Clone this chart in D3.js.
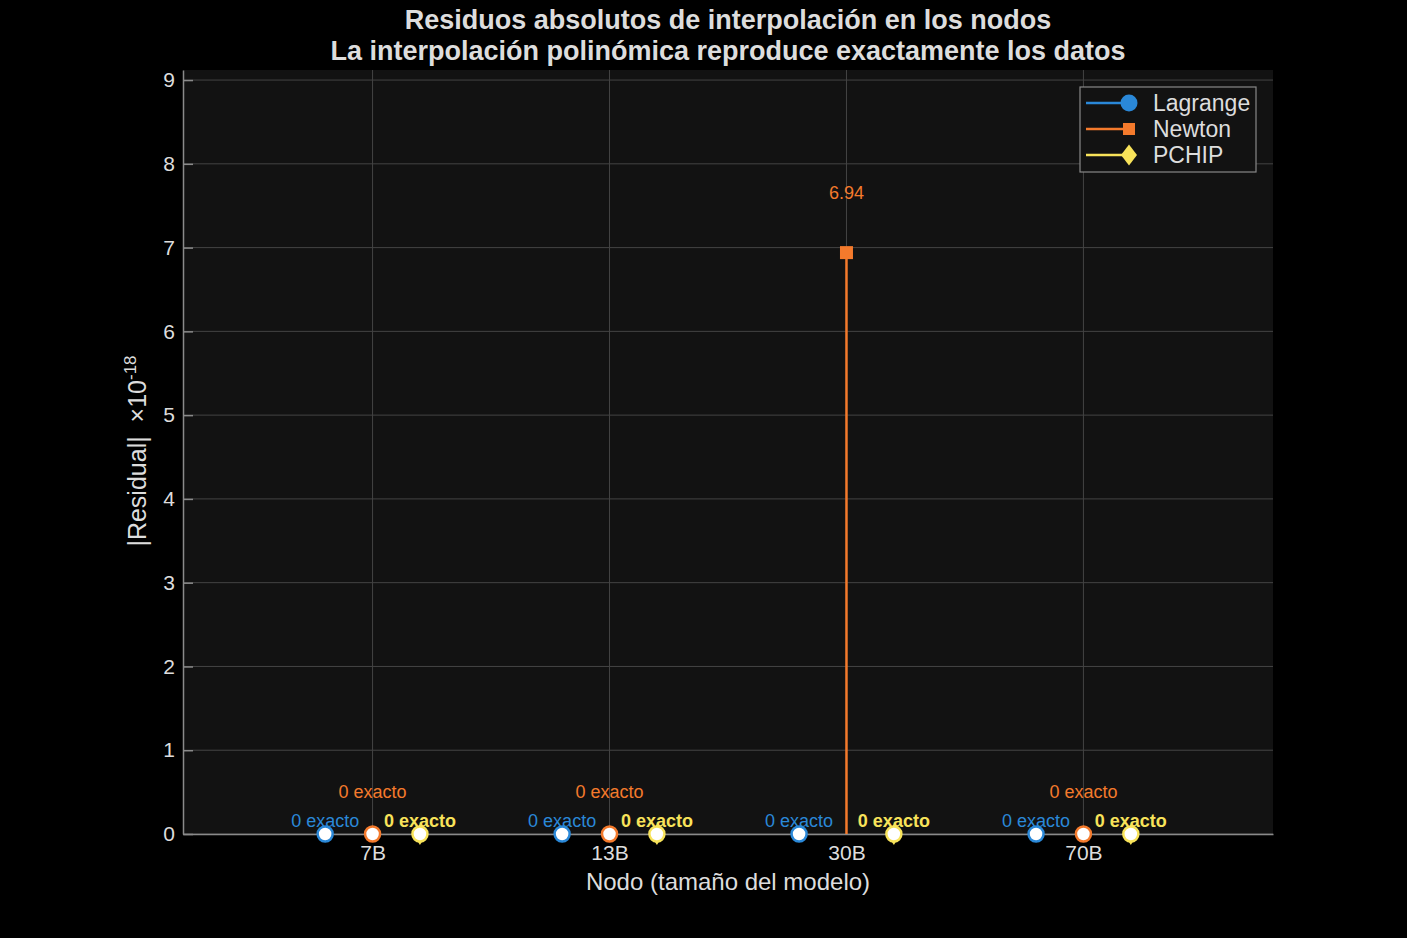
<!DOCTYPE html>
<html>
<head>
<meta charset="utf-8">
<script src="https://cdn.jsdelivr.net/npm/d3@7"></script>
<style>
  body { margin: 0; background: #000; }
  text { font-family: "Liberation Sans", Arial, sans-serif; }
</style>
</head>
<body>
<div id="chart"></div>
<script>
// Data (values in units of 1e-18)
const nodes = ['7B', '13B', '30B', '70B'];
const methods = ['Lagrange', 'Newton', 'PCHIP'];
const lagrangeResid = [0, 0, 0, 0];
const newtonResid = [0, 0, 6.94, 0];
const pchipResid = [0, 0, 0, 0];
const yTicks = [0, 1, 2, 3, 4, 5, 6, 7, 8, 9];

const colors = { Lagrange: '#2a88d8', Newton: '#f47a2c', PCHIP: '#f8e35a' };
const offsets = { Lagrange: -0.2, Newton: 0, PCHIP: 0.2 };
const series = [
  { name: 'Lagrange', values: lagrangeResid },
  { name: 'Newton', values: newtonResid },
  { name: 'PCHIP', values: pchipResid }
];

const width = 1407, height = 938;
const margins = { left: 183, right: 134, top: 70, bottom: 104 };
const innerWidth = width - margins.left - margins.right;
const innerHeight = height - margins.top - margins.bottom;

const svg = d3.select('#chart').append('svg')
  .attr('width', width).attr('height', height);

svg.append('rect').attr('width', width).attr('height', height).attr('fill', '#000');

const g = svg.append('g')
  .attr('transform', `translate(${margins.left}, ${margins.top})`);

// Scales
const x = d3.scaleLinear().domain([-0.8, 3.8]).range([0, innerWidth]);
const y = d3.scaleLinear().domain([0, 9.12]).range([innerHeight, 0]);

// Plot background
g.append('rect')
  .attr('width', innerWidth).attr('height', innerHeight)
  .attr('fill', '#121212');

// Grid
g.append('g').selectAll('line').data(yTicks).join('line')
  .attr('x1', 0).attr('x2', innerWidth)
  .attr('y1', d => y(d)).attr('y2', d => y(d))
  .attr('stroke', '#444').attr('stroke-width', 1);
g.append('g').selectAll('line').data(nodes).join('line')
  .attr('x1', (d, i) => x(i)).attr('x2', (d, i) => x(i))
  .attr('y1', 0).attr('y2', innerHeight)
  .attr('stroke', '#444').attr('stroke-width', 1);

// Y axis
const yAxis = g.append('g')
  .call(d3.axisLeft(y).tickValues(yTicks).tickSizeInner(-10).tickSizeOuter(0).tickPadding(8));
yAxis.select('.domain').attr('stroke', '#8a8a8a').attr('stroke-width', 1.5);
yAxis.selectAll('.tick line').attr('stroke', '#8a8a8a').attr('stroke-width', 1.5);
yAxis.selectAll('.tick text').attr('fill', '#ddd').attr('font-size', 21)
  .attr('font-family', '"Liberation Sans", Arial, sans-serif');

// X axis
const xAxis = g.append('g')
  .attr('transform', `translate(0, ${innerHeight})`)
  .call(d3.axisBottom(x).tickValues(d3.range(nodes.length))
    .tickFormat(i => nodes[i]).tickSize(0).tickPadding(11));
xAxis.select('.domain').attr('stroke', '#8a8a8a').attr('stroke-width', 1.5);
xAxis.selectAll('.tick text').attr('fill', '#ddd').attr('font-size', 21)
  .attr('font-family', '"Liberation Sans", Arial, sans-serif');

// Stems for nonzero values
series.forEach(s => {
  g.append('g').selectAll('line')
    .data(s.values.map((v, i) => ({ v, i })).filter(d => d.v > 0))
    .join('line')
    .attr('x1', d => x(d.i + offsets[s.name])).attr('x2', d => x(d.i + offsets[s.name]))
    .attr('y1', y(0)).attr('y2', d => y(d.v))
    .attr('stroke', colors[s.name]).attr('stroke-width', 2.5);
});

function drawMarker(sel, name, cx, cy, size) {
  if (name === 'Lagrange') {
    sel.append('circle').attr('cx', cx).attr('cy', cy).attr('r', size);
  } else if (name === 'Newton') {
    sel.append('rect').attr('x', cx - size).attr('y', cy - size)
      .attr('width', size * 2).attr('height', size * 2);
  } else {
    sel.append('path')
      .attr('d', `M${cx},${cy - size * 1.3}L${cx + size},${cy}L${cx},${cy + size * 1.3}L${cx - size},${cy}Z`);
  }
}

// Markers and labels
series.forEach(s => {
  const c = colors[s.name];
  s.values.forEach((v, i) => {
    const cx = x(i + offsets[s.name]);
    if (v > 0) {
      const m = g.append('g').attr('fill', c);
      drawMarker(m, s.name, cx, y(v), 6.5);
      g.append('text').attr('x', cx).attr('y', y(v) - 54)
        .attr('text-anchor', 'middle').attr('fill', c)
        .style('font-size', '18px').text(v.toFixed(2));
    } else {
      if (s.name === 'PCHIP') {
        g.append('path')
          .attr('d', `M${cx},${y(0) - 10}L${cx + 7},${y(0)}L${cx},${y(0) + 11}L${cx - 7},${y(0)}Z`)
          .attr('fill', c);
      }
      g.append('circle').attr('cx', cx).attr('cy', y(0)).attr('r', 7.5)
        .attr('fill', '#fff').attr('stroke', c).attr('stroke-width', 2.5);
      const ly = s.name === 'Newton' ? y(0) - 36 : y(0) - 7;
      g.append('text').attr('x', cx).attr('y', ly)
        .attr('text-anchor', 'middle').attr('fill', c)
        .style('font-size', '18px')
        .style('font-weight', s.name === 'PCHIP' ? 'bold' : 'normal')
        .text('0 exacto');
    }
  });
});

// Legend
const legend = g.append('g').attr('transform', `translate(${1080 - margins.left}, ${87 - margins.top})`);
legend.append('rect').attr('width', 176).attr('height', 85)
  .attr('fill', '#121212').attr('stroke', '#888').attr('stroke-width', 1.2);
methods.forEach((name, k) => {
  const ly = 16 + k * 26;
  const row = legend.append('g').attr('fill', colors[name]);
  row.append('line').attr('x1', 6).attr('x2', 48).attr('y1', ly).attr('y2', ly)
    .attr('stroke', colors[name]).attr('stroke-width', 2.5);
  if (name === 'Lagrange') drawMarker(row, name, 49, ly, 8.5);
  else if (name === 'Newton') drawMarker(row, name, 49, ly, 6);
  else drawMarker(row, name, 49, ly, 8);
  legend.append('text').attr('x', 73).attr('y', ly + 8)
    .attr('fill', '#ddd').style('font-size', '23px').text(name);
});

// Titles
const cxTitle = margins.left + innerWidth / 2;
svg.append('text').attr('x', cxTitle).attr('y', 29).attr('text-anchor', 'middle')
  .attr('fill', '#ddd').style('font-size', '27px').style('font-weight', 'bold')
  .text('Residuos absolutos de interpolación en los nodos');
svg.append('text').attr('x', cxTitle).attr('y', 60).attr('text-anchor', 'middle')
  .attr('fill', '#ddd').style('font-size', '27px').style('font-weight', 'bold')
  .text('La interpolación polinómica reproduce exactamente los datos');

svg.append('text').attr('x', cxTitle).attr('y', 890).attr('text-anchor', 'middle')
  .attr('fill', '#ddd').style('font-size', '24px')
  .text('Nodo (tamaño del modelo)');

const yl = svg.append('text')
  .attr('transform', `translate(146, 451) rotate(-90)`)
  .attr('text-anchor', 'middle').attr('fill', '#ddd').style('font-size', '25px')
  .style('white-space', 'pre');
yl.append('tspan').text('|Residual|  ×10');
yl.append('tspan').attr('dy', -10).style('font-size', '17px').text('-18');
</script>
</body>
</html>
